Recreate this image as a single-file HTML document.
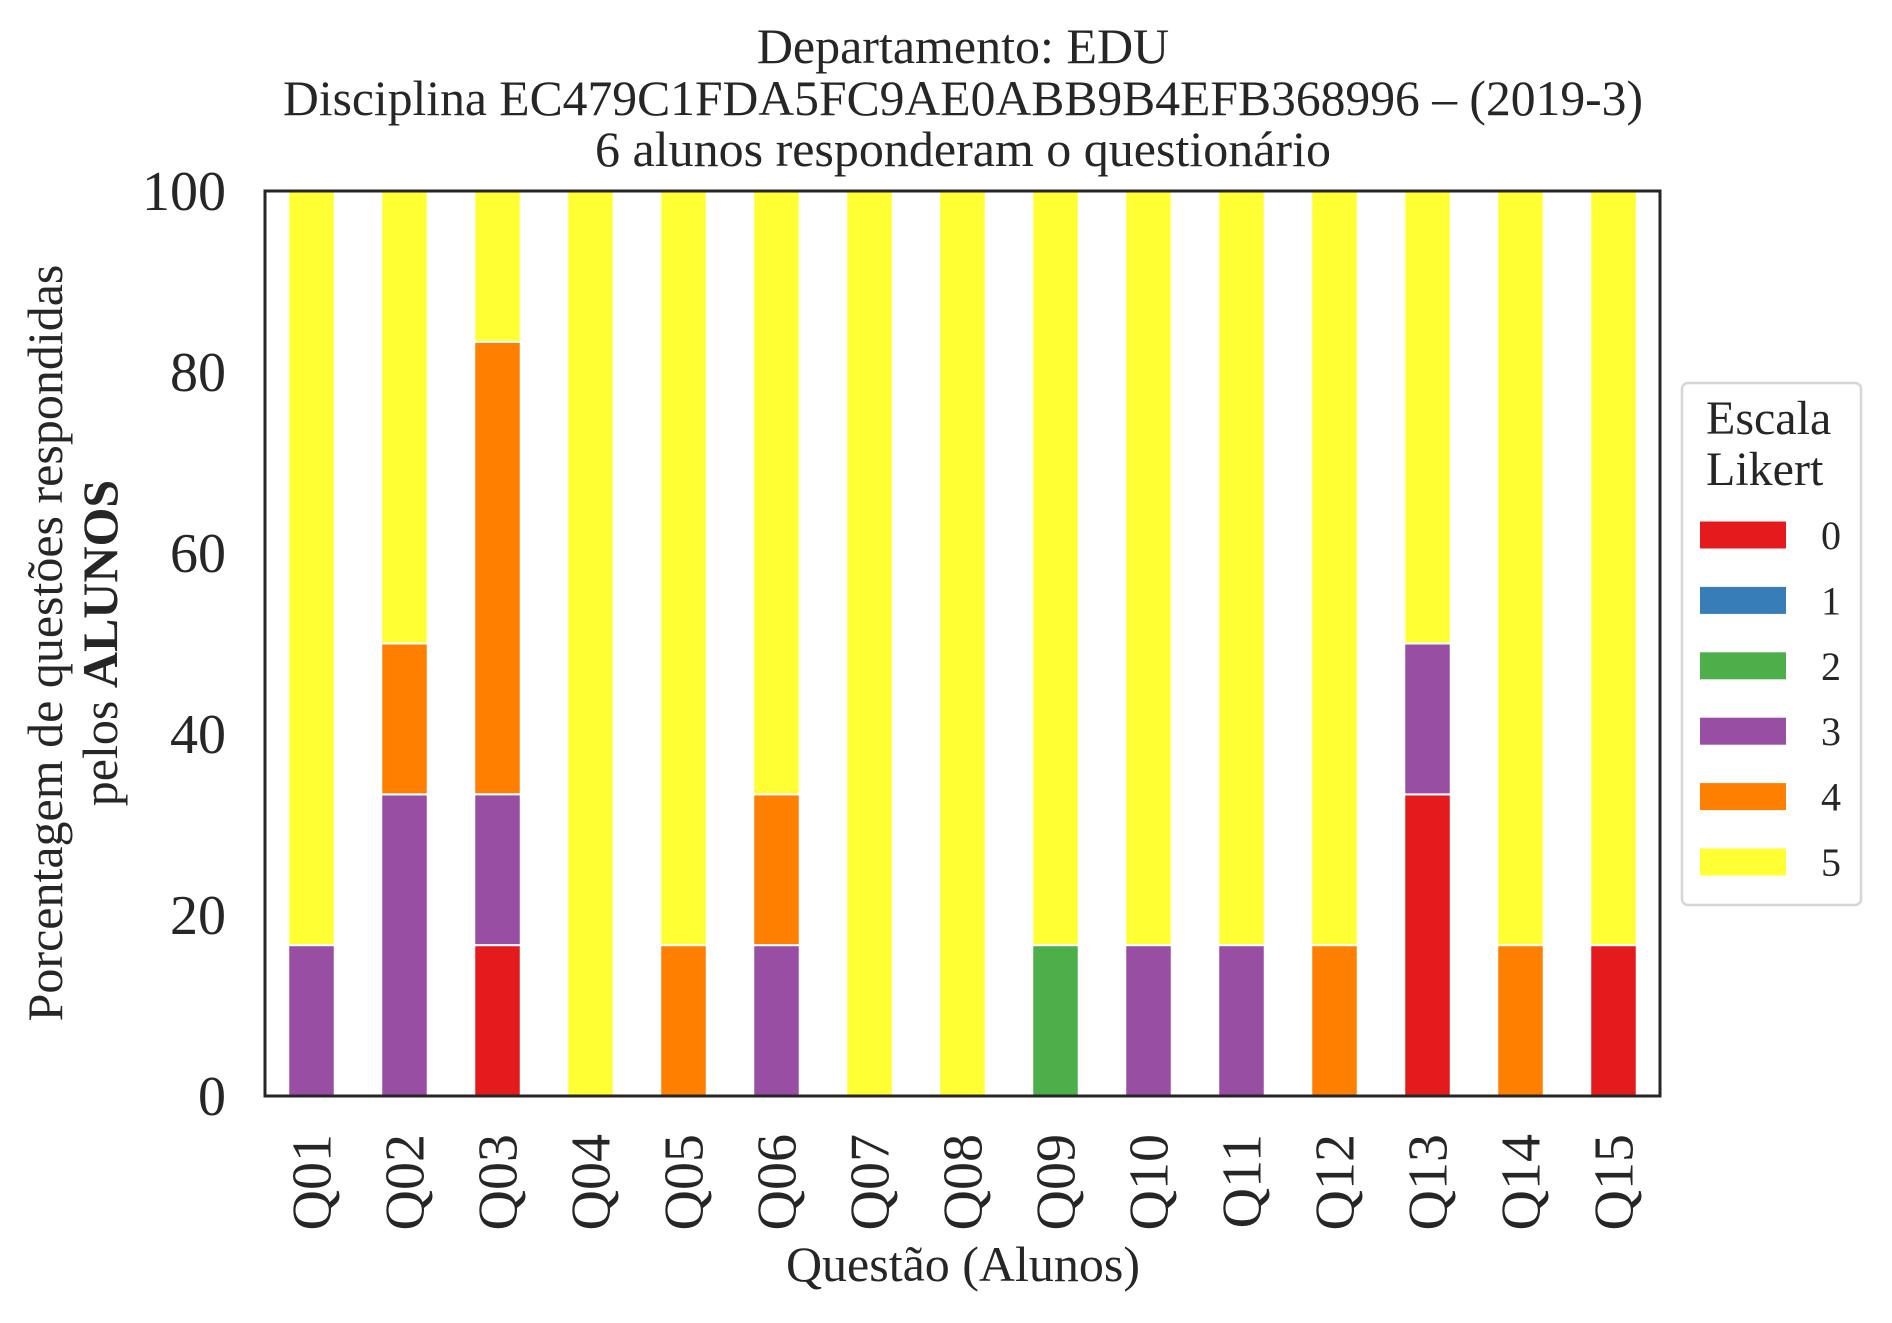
<!DOCTYPE html>
<html><head><meta charset="utf-8"><style>
html,body{margin:0;padding:0;background:#fff;}
svg{display:block;font-family:"Liberation Serif",serif;}
</style></head><body>
<svg id="chart" width="1892" height="1323" viewBox="0 0 1892 1323" xmlns="http://www.w3.org/2000/svg">
<g fill="#262626" font-size="50" text-anchor="middle">
<text x="963" y="63">Departamento: EDU</text>
<text x="963" y="115" textLength="1360" lengthAdjust="spacingAndGlyphs">Disciplina EC479C1FDA5FC9AE0ABB9B4EFB368996 – (2019-3)</text>
<text x="963" y="166">6 alunos responderam o questionário</text>
</g>
<g id="bars"></g>
<g id="yticks" fill="#262626" font-size="56" text-anchor="end"></g>
<g id="xticks" fill="#262626" font-size="56" text-anchor="end"></g>
<rect x="265" y="191" width="1395" height="905" fill="none" stroke="#262626" stroke-width="3"/>
<text x="963" y="1281" font-size="50" fill="#262626" text-anchor="middle">Questão (Alunos)</text>
<g fill="#262626" font-size="50" text-anchor="middle">
<text transform="translate(62,643) rotate(-90)">Porcentagem de questões respondidas</text>
<text transform="translate(117,643) rotate(-90)">pelos <tspan font-weight="bold">ALUNOS</tspan></text>
</g>
<g>
<rect x="1682" y="383" width="179" height="522" rx="6" fill="#fff" stroke="#d6d6d6" stroke-width="2.5"/>
<text x="1706" y="434" font-size="48" fill="#262626">Escala</text>
<text x="1706" y="485" font-size="48" fill="#262626">Likert</text>
<g id="legend-entries"></g>
</g>
</svg>
<script>
const categories = ["Q01","Q02","Q03","Q04","Q05","Q06","Q07","Q08","Q09","Q10","Q11","Q12","Q13","Q14","Q15"];
const levels = ["0","1","2","3","4","5"];
const colors = ["#e41a1c","#377eb8","#4daf4a","#984ea3","#ff7f00","#ffff33"];
const level0 = [0,0,16.67,0,0,0,0,0,0,0,0,0,33.33,0,16.67];
const level1 = [0,0,0,0,0,0,0,0,0,0,0,0,0,0,0];
const level2 = [0,0,0,0,0,0,0,0,16.67,0,0,0,0,0,0];
const level3 = [16.67,33.33,16.67,0,0,16.67,0,0,0,16.67,16.67,0,16.67,0,0];
const level4 = [0,16.67,50,0,16.67,16.67,0,0,0,0,0,16.67,0,16.67,0];
const level5 = [83.33,50,16.67,100,83.33,66.67,100,100,83.33,83.33,83.33,83.33,50,83.33,83.33];
const yTicks = [0,20,40,60,80,100];

const NS = "http://www.w3.org/2000/svg";
const X0 = 265, X1 = 1660, Y0 = 1096, Y1 = 191;
const step = (X1 - X0) / categories.length;
const barW = step * 0.5;
const xCenter = i => X0 + step * (i + 0.5);
const yScale = v => Y0 - (v / 100) * (Y0 - Y1);
const series = [level0, level1, level2, level3, level4, level5];

const bars = document.getElementById('bars');
categories.forEach((c, i) => {
  let cum = 0;
  series.forEach((s, k) => {
    const v = s[i];
    if (v > 0) {
      const r = document.createElementNS(NS, 'rect');
      r.setAttribute('x', xCenter(i) - barW / 2);
      r.setAttribute('y', yScale(cum + v));
      r.setAttribute('width', barW);
      r.setAttribute('height', yScale(cum) - yScale(cum + v));
      r.setAttribute('fill', colors[k]);
      r.setAttribute('stroke', '#fff');
      r.setAttribute('stroke-width', '2');
      
      
      bars.appendChild(r);
    }
    cum += v;
  });
});

const yt = document.getElementById('yticks');
yTicks.forEach(t => {
  const tx = document.createElementNS(NS, 'text');
  tx.setAttribute('x', 226);
  tx.setAttribute('y', yScale(t) + 19);
  tx.textContent = t;
  
  
  yt.appendChild(tx);
});

const xt = document.getElementById('xticks');
categories.forEach((c, i) => {
  const tx = document.createElementNS(NS, 'text');
  tx.setAttribute('transform', 'translate(' + (xCenter(i) + 19) + ',1134) rotate(-90)');
  tx.textContent = c;
  
  
  xt.appendChild(tx);
});

const lg = document.getElementById('legend-entries');
levels.forEach((l, k) => {
  const cy = 535 + k * 65.4;
  const r = document.createElementNS(NS, 'rect');
  r.setAttribute('x', 1700);
  r.setAttribute('y', cy - 13.5);
  r.setAttribute('width', 86);
  r.setAttribute('height', 27);
  r.setAttribute('fill', colors[k]);
  
  
  lg.appendChild(r);
  const tx = document.createElementNS(NS, 'text');
  tx.setAttribute('x', 1821);
  tx.setAttribute('y', cy + 14);
  tx.setAttribute('font-size', '40');
  tx.setAttribute('fill', '#262626');
  tx.textContent = l;
  
  
  lg.appendChild(tx);
});
</script>
</body></html>
